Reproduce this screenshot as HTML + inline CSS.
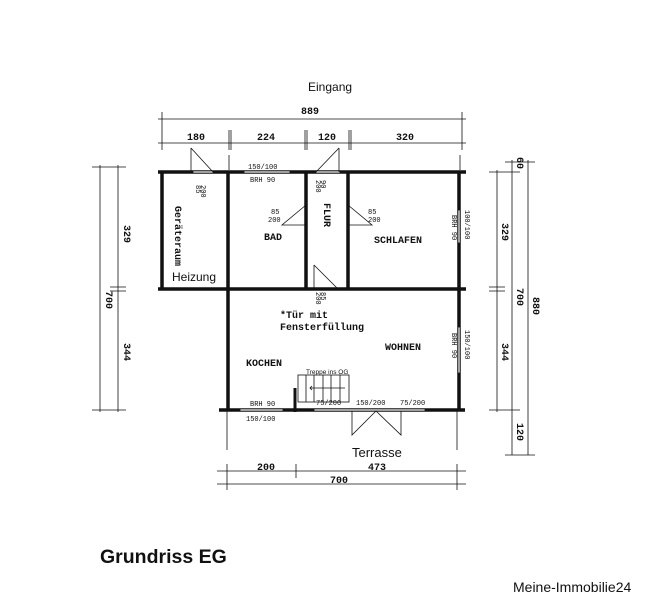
<!DOCTYPE html>
<html><head><meta charset="utf-8"><style>
body{margin:0;background:#fff;width:647px;height:600px;overflow:hidden}
svg{display:block}
.m{font-family:"Liberation Mono",monospace;font-weight:bold;font-size:10px;fill:#111}
.s{font-family:"Liberation Mono",monospace;font-size:7px;fill:#111}
.a{font-family:"Liberation Sans",sans-serif;fill:#111}
</style></head><body>
<svg width="647" height="600" viewBox="0 0 647 600">
<g stroke="#111" fill="none">
<g stroke-width="3.5">
<line x1="158" y1="172" x2="466" y2="172"/>
<line x1="158" y1="289" x2="466" y2="289"/>
<line x1="219" y1="410" x2="465" y2="410"/>
<line x1="162" y1="172" x2="162" y2="289"/>
<line x1="228" y1="172" x2="228" y2="410"/>
<line x1="306" y1="172" x2="306" y2="289"/>
<line x1="348" y1="172" x2="348" y2="289"/>
<line x1="459" y1="172" x2="459" y2="410"/>
</g>
<g stroke="#fff" stroke-width="2">
<line x1="193" y1="172" x2="213" y2="172"/>
<line x1="244" y1="172" x2="290" y2="172"/>
<line x1="316" y1="172" x2="340" y2="172"/>
<line x1="459" y1="210" x2="459" y2="243"/>
<line x1="459" y1="327" x2="459" y2="373"/>
<line x1="240" y1="410" x2="283" y2="410"/>
<line x1="314" y1="410" x2="425" y2="410"/>
</g>
<g stroke-width="0.8">
<rect x="193" y="171" width="20" height="2"/><rect x="244" y="171" width="46" height="2"/>
<rect x="316" y="171" width="24" height="2"/><rect x="458" y="210" width="2" height="33"/>
<rect x="458" y="327" width="2" height="46"/><rect x="240" y="409" width="43" height="2"/>
<rect x="314" y="409" width="111" height="2"/>
<path d="M191 148 L213 172 M191 148 V172"/>
<path d="M339 148 L316 172 M339 148 V172"/>
<path d="M306 205 L282 225 H306"/>
<path d="M348 205 L372 225 H348"/>
<path d="M314 265 L338 289 M314 265 V289"/>
<path d="M352 411 V435 L376 411 L401 435 V411"/>
<line x1="227" y1="410" x2="227" y2="450"/><line x1="457" y1="410" x2="457" y2="450"/>
<line x1="229" y1="155" x2="229" y2="170"/><line x1="460" y1="155" x2="460" y2="170"/>
<rect x="298" y="375" width="51" height="27"/>
<path d="M306 375V402M314 375V402M323 375V402M331 375V402M340 375V402M310 388H345M312 386L310 388L312 390"/>
<line x1="295" y1="388" x2="295" y2="412" stroke-width="3"/>
<line x1="158" y1="119" x2="466" y2="119"/>
<line x1="158" y1="143" x2="466" y2="143"/>
<path d="M162 112V150M229 130V150M231 130V150M305 130V150M307 130V150M349 130V150M351 130V150M462 112V150"/>
<line x1="100" y1="165" x2="100" y2="412"/>
<line x1="118" y1="165" x2="118" y2="412"/>
<path d="M92 167H126M110 287H126M110 291H126M92 410H126"/>
<line x1="497" y1="170" x2="497" y2="412"/>
<line x1="512" y1="160" x2="512" y2="455"/>
<line x1="528" y1="160" x2="528" y2="455"/>
<path d="M489 172H520M489 287H505M489 291H505M489 410H520M505 455H535M505 162H535"/>
<line x1="217" y1="471" x2="466" y2="471"/>
<line x1="217" y1="484" x2="466" y2="484"/>
<path d="M227 464V490M296 464V478M457 464V490"/>
</g>
</g>
<g class="m">
<text x="310" y="114" text-anchor="middle">889</text>
<text x="196" y="140" text-anchor="middle">180</text>
<text x="266" y="140" text-anchor="middle">224</text>
<text x="327" y="140" text-anchor="middle">120</text>
<text x="405" y="140" text-anchor="middle">320</text>
<text x="264" y="240">BAD</text>
<text x="374" y="243">SCHLAFEN</text>
<text x="246" y="366">KOCHEN</text>
<text x="385" y="350">WOHNEN</text>
<text x="280" y="318">*Tür mit</text>
<text x="280" y="330">Fensterfüllung</text>
<text x="266" y="470" text-anchor="middle">200</text>
<text x="377" y="470" text-anchor="middle">473</text>
<text x="339" y="483" text-anchor="middle">700</text>
<text transform="translate(324,215) rotate(90)" text-anchor="middle">FLUR</text>
<text transform="translate(175,236) rotate(90)" text-anchor="middle">Geräteraum</text>
<text transform="translate(124,234) rotate(90)" text-anchor="middle">329</text>
<text transform="translate(124,352) rotate(90)" text-anchor="middle">344</text>
<text transform="translate(106,300) rotate(90)" text-anchor="middle">700</text>
<text transform="translate(502,232) rotate(90)" text-anchor="middle">329</text>
<text transform="translate(502,352) rotate(90)" text-anchor="middle">344</text>
<text transform="translate(517,297) rotate(90)" text-anchor="middle">700</text>
<text transform="translate(533,306) rotate(90)" text-anchor="middle">880</text>
<text transform="translate(517,163) rotate(90)" text-anchor="middle">60</text>
<text transform="translate(517,432) rotate(90)" text-anchor="middle">120</text>
</g>
<g class="s">
<text x="248" y="169">150/100</text><text x="250" y="182">BRH 90</text>
<text x="271" y="214">85</text><text x="268" y="222">200</text>
<text x="368" y="214">85</text><text x="368" y="222">200</text>
<text x="250" y="406">BRH 90</text><text x="246" y="421">150/100</text>
<text x="316" y="405">75/200</text><text x="356" y="405">150/200</text><text x="400" y="405">75/200</text>
<text transform="translate(452,215) rotate(90)">BRH 90</text>
<text transform="translate(465,210) rotate(90)">100/100</text>
<text transform="translate(452,333) rotate(90)">BRH 90</text>
<text transform="translate(465,330) rotate(90)">150/100</text>
<text transform="translate(196,185) rotate(90)">85</text>
<text transform="translate(201,185) rotate(90)">200</text>
<text transform="translate(316,180) rotate(90)">200</text>
<text transform="translate(321,180) rotate(90)">90</text>
<text transform="translate(316,292) rotate(90)">200</text>
<text transform="translate(321,292) rotate(90)">85</text>
</g>
<text class="a" x="308" y="91" font-size="12">Eingang</text>
<text class="a" x="172" y="281" font-size="12">Heizung</text>
<text class="a" x="352" y="457" font-size="13">Terrasse</text>
<text class="a" x="306" y="374" font-size="6.5">Treppe ins OG</text>
<text class="a" x="100" y="563" font-size="19.5" font-weight="bold">Grundriss EG</text>
<text class="a" x="513" y="592" font-size="14">Meine-Immobilie24</text>
</svg>
</body></html>
